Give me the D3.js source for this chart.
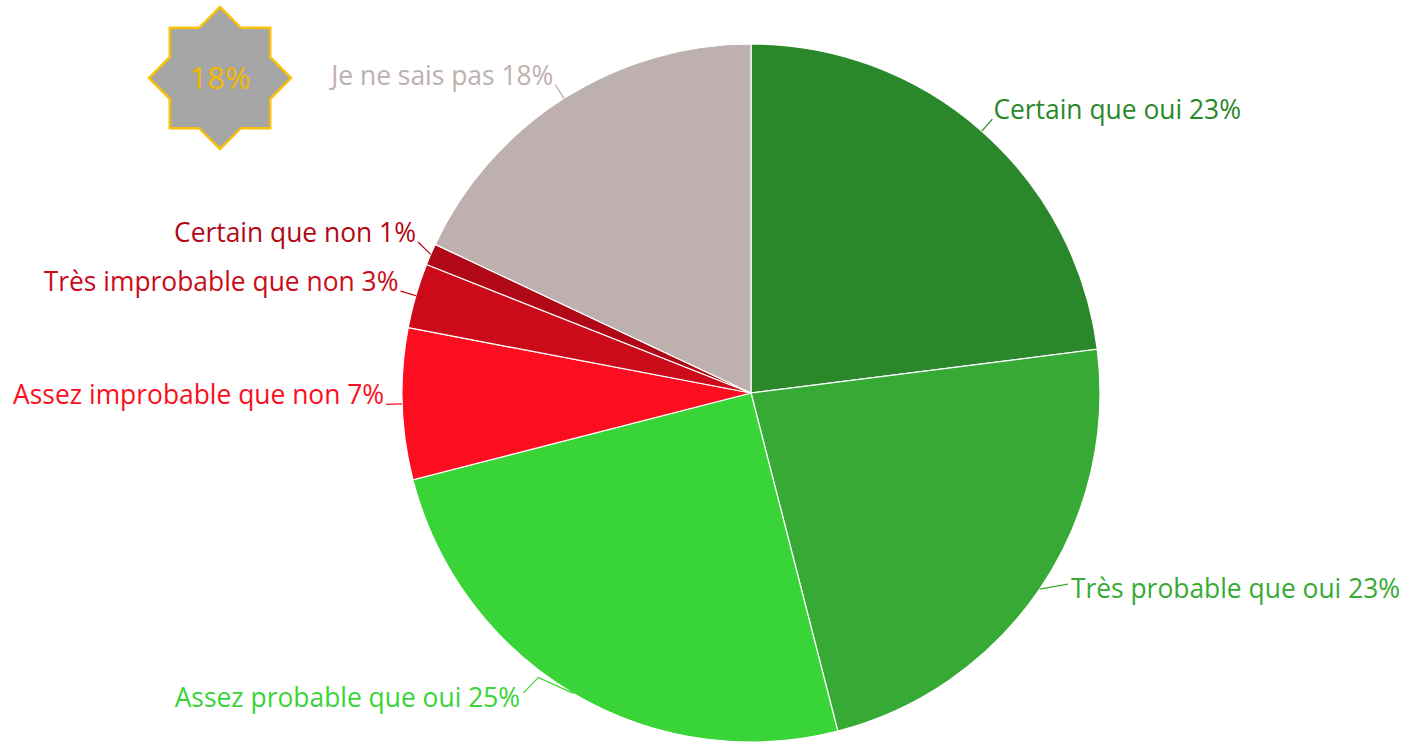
<!DOCTYPE html>
<html>
<head>
<meta charset="utf-8">
<script src="https://cdn.jsdelivr.net/npm/d3@7"></script>
<style>
  html, body { margin: 0; padding: 0; background: #fff; }
  svg { display: block; font-family: "Open Sans", sans-serif; }
</style>
</head>
<body>
<div id="graf"></div>
<script>
// Donnees
categories = ['Certain que oui', 'Très probable que oui', 'Assez probable que oui',
              'Assez improbable que non', 'Très improbable que non', 'Certain que non', 'Je ne sais pas']
valeurs = [23, 23, 25, 7, 3, 1, 18]
couleurs = ['#2a882b', '#37aa35', '#39d438', '#fc0e20', '#cc0b1a', '#b10817', '#bdb0af']
badgeTexte = '18%'

// Configuracion
ancho_total = 1405
alto_total = 742
centro = { x: 751, y: 393 }
radio = 349
radioLabel = 365

// decalage des etiquettes trop proches (index -> px)
decalage = { 1: { dx: 17, dy: 0 }, 2: { dx: -43, dy: 0 }, 5: { dx: 2, dy: -6 } }

svg = d3.select('#graf').append('svg')
        .attr('width', ancho_total)
        .attr('height', alto_total)

g = svg.append('g')
        .attr('transform', `translate(${centro.x}, ${centro.y})`)

datos = categories.map((c, i) => ({ cat: c, val: valeurs[i], color: couleurs[i], i: i }))

pie = d3.pie().sort(null).value(d => d.val)
arcos = pie(datos)

arc = d3.arc().innerRadius(0).outerRadius(radio)

g.selectAll('path.slice')
        .data(arcos)
        .enter()
        .append('path')
        .attr('class', 'slice')
        .attr('d', arc)
        .attr('fill', d => d.data.color)
        .attr('stroke', '#fff')
        .attr('stroke-width', 1.2)

function punto(a, r) {
        return [r * Math.sin(a), -r * Math.cos(a)]
}

labels = g.append('g')

arcos.forEach(d => {
        mid = (d.startAngle + d.endAngle) / 2
        p1 = punto(mid, radio)
        p2 = punto(mid, radioLabel)
        derecha = p2[0] > 0
        nud = decalage[d.data.i] || { dx: 0, dy: 0 }
        tx = p2[0] + nud.dx + (derecha ? 1 : -2)
        ty = p2[1] + nud.dy

        if (Math.abs(nud.dx) < 5) {
                pts = [p1, [p2[0] + nud.dx, p2[1] + nud.dy]]
        } else if (derecha) {
                pts = [p1, [tx - 3, ty - 14]]
        } else {
                pts = [p1, [p1[0] - 35, p1[1] - 16], [tx + 3, ty - 14]]
        }

        labels.append('path')
                .attr('d', d3.line()(pts))
                .attr('fill', 'none')
                .attr('stroke', d.data.color)
                .attr('stroke-width', 1.2)

        labels.append('text')
                .attr('x', tx)
                .attr('y', ty)
                .attr('text-anchor', derecha ? 'start' : 'end')
                .attr('font-size', 26.4)
                .attr('fill', d.data.color)
                .text(`${d.data.cat} ${d.data.val}%`)
})

// Badge etoile
badge = svg.append('g')
        .attr('transform', 'translate(220, 78)')

rOut = 71
rIn = rOut * Math.cos(Math.PI / 4) / Math.cos(Math.PI / 8)
estrella = d3.range(16).map(k => [k * Math.PI / 8, k % 2 === 0 ? rOut : rIn])

badge.append('path')
        .attr('d', d3.lineRadial().curve(d3.curveLinearClosed)(estrella))
        .attr('fill', '#a6a6a6')
        .attr('stroke', '#f7c10a')
        .attr('stroke-width', 2.5)
        .attr('stroke-linejoin', 'miter')

badge.append('text')
        .attr('y', 11)
        .attr('text-anchor', 'middle')
        .attr('font-size', 31)
        .attr('fill', '#f5b800')
        .text(badgeTexte)
</script>
</body>
</html>
